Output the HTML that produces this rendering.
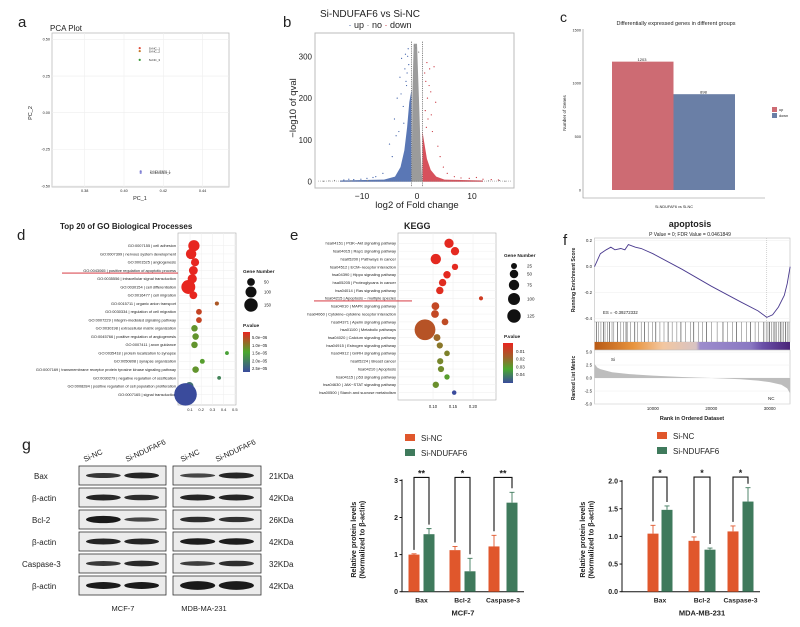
<!DOCTYPE html>
<html><head><meta charset="utf-8">
<style>
html,body{margin:0;padding:0;background:#fff;}
svg{display:block;font-family:"Liberation Sans",Arial,sans-serif;}
text{fill:#222;}
</style></head>
<body>
<svg id="fig" width="800" height="627" viewBox="0 0 800 627" xmlns="http://www.w3.org/2000/svg">
<rect width="800" height="627" fill="#fff"/>
<!-- panel letters -->
<text x="18" y="27" font-size="15">a</text>
<text x="283" y="27" font-size="15">b</text>
<text x="560" y="22" font-size="14">c</text>
<text x="17" y="240" font-size="15">d</text>
<text x="290" y="240" font-size="15">e</text>
<text x="563" y="245" font-size="15">f</text>
<text x="22" y="450" font-size="16">g</text>

<!-- a -->
<text x="50" y="31" font-size="8">PCA Plot</text>
<text x="140" y="200" font-size="5.5" text-anchor="middle">PC_1</text>
<text transform="translate(32,113) rotate(-90)" font-size="5.5" text-anchor="middle">PC_2</text>
<g id="pca"></g>

<!-- b -->
<text x="370" y="17" font-size="10" text-anchor="middle">Si-NDUFAF6 vs Si-NC</text>
<text x="380" y="28" font-size="9" text-anchor="middle"><tspan fill="#3b5ba5">·</tspan> up  <tspan fill="#888">·</tspan> no  <tspan fill="#c8323c">·</tspan> down</text>
<text x="417" y="208" font-size="9.5" text-anchor="middle">log2 of Fold change</text>
<text transform="translate(296,108) rotate(-90)" font-size="9.5" text-anchor="middle">−log10 of qval</text>
<g id="volcano"></g>

<!-- c -->
<text x="676" y="25" font-size="5.5" text-anchor="middle">Differentially expressed genes in different groups</text>
<text transform="translate(566,113) rotate(-90)" font-size="4.5" text-anchor="middle">Number of Genes</text>
<text x="674" y="208" font-size="3.8" text-anchor="middle">Si-NDUFAF6 vs Si-NC</text>
<rect x="772" y="107" width="5" height="5" fill="#cd6b73"/>
<text x="779" y="111" font-size="3.8">up</text>
<rect x="772" y="113" width="5" height="5" fill="#6a7fa6"/>
<text x="779" y="117" font-size="3.8">down</text>
<g id="deg"></g>

<!-- d -->
<text x="60" y="229" font-size="8" font-weight="bold">Top 20 of GO Biological Processes</text>
<g id="go"></g>

<!-- e -->
<text x="404" y="229" font-size="9" font-weight="bold">KEGG</text>
<g id="kegg"></g>

<!-- f -->
<text x="690" y="227" font-size="9" font-weight="bold" text-anchor="middle">apoptosis</text>
<text x="690" y="236" font-size="5" text-anchor="middle">P Value = 0; FDR Value = 0.0461849</text>
<text x="692" y="420" font-size="5.5" font-weight="bold" text-anchor="middle">Rank in Ordered Dataset</text>
<text transform="translate(575,280) rotate(-90)" font-size="5" font-weight="bold" text-anchor="middle">Running Enrichment Score</text>
<text transform="translate(575,378) rotate(-90)" font-size="5" font-weight="bold" text-anchor="middle">Ranked List Metric</text>
<g id="gsea"></g>

<!-- g blots -->
<g id="blots"></g>

<!-- bar charts -->
<g id="bars1"></g>
<g id="bars2"></g>
</svg>

<script>
// ---------- data ----------
// PCA
const pcaSamples = ['Si-NC_1','Si-NC_2','Si-NC_3','Si-NDUFAF6_1','Si-NDUFAF6_2'];
const pcaX = [0.408, 0.408, 0.408, 0.4085, 0.4085];
const pcaY = [0.44, 0.42, 0.36, -0.40, -0.41];
const pcaColors = ['#e0503c','#c8782a','#3a9a3a','#7a7ad0','#8a8ad8'];
const pcaXTicks = [0.38, 0.40, 0.42, 0.44];
const pcaYTicks = [0.50, 0.25, 0.00, -0.25, -0.50];

// Volcano
const volXTicks = [-10, 0, 10];
const volYTicks = [0, 100, 200, 300];
const downCloudFC = [-1, -1, -1.4, -1.8, -2.3, -3, -4, -6, -14, -14];
const downCloudQ  = [0, 220, 190, 130, 75, 35, 12, 5, 3, 0];
const noCloudFC = [-0.95, -0.85, -0.6, 0.0, 0.35, 0.7, 0.95];
const noCloudQ  = [0, 200, 330, 330, 200, 60, 0];
const upCloudFC = [1, 1, 1.3, 1.8, 2.5, 3.5, 5, 12, 12];
const upCloudQ  = [0, 120, 95, 55, 28, 12, 5, 3, 0];
const downFC = [-2.8,-2.2,-3.1,-1.9,-3.6,-2.5,-4.1,-5.0,-4.5,-3.3,-6.2,-7.5,-9.1,-10.2,-11.5,-12.4,-13.3,-8.0,-2.1,-1.6,-2.9,-3.8,-1.8,-2.4,-1.5,-2.0,-1.7];
const downQ  = [295,270,250,230,200,180,150,90,60,120,20,12,8,6,5,6,4,10,305,318,210,110,260,140,280,240,300];
const upFC = [1.8,2.3,3.1,1.6,2.5,3.4,4.2,2.0,1.4,2.8,5.5,6.8,8.0,9.5,10.8,12.0,13.5,14.8,3.8,2.2,4.8,1.9,1.5,2.6,1.7];
const upQ  = [285,270,275,240,215,190,60,150,260,120,20,12,9,8,10,6,5,4,85,230,35,200,170,160,130];
const noFC = [-16,-15,-17,-12,-9,13,15,16,-0.2,0.3,-0.5];
const noQ  = [2,3,1,2,3,2,3,1,320,310,325];

// DEG bar
const degGroups = ['up','down'];
const degValues = [1203, 898];
const degColors = ['#cd6b73','#6a7fa6'];
const degYTicks = [0, 500, 1000, 1500];

// GO
const goTerms = ['GO:0007155 | cell adhesion','GO:0007399 | nervous system development','GO:0001525 | angiogenesis','GO:0043065 | positive regulation of apoptotic process','GO:0035556 | intracellular signal transduction','GO:0030154 | cell differentiation','GO:0016477 | cell migration','GO:0015711 | organic anion transport','GO:0030334 | regulation of cell migration','GO:0007229 | integrin-mediated signaling pathway','GO:0030198 | extracellular matrix organization','GO:0045766 | positive regulation of angiogenesis','GO:0007411 | axon guidance','GO:0035418 | protein localization to synapse','GO:0050808 | synapse organization','GO:0007169 | transmembrane receptor protein tyrosine kinase signaling pathway','GO:0030279 | negative regulation of ossification','GO:0008284 | positive regulation of cell population proliferation','GO:0007165 | signal transduction'];
const goRatio = [0.135,0.11,0.145,0.13,0.12,0.085,0.13,0.34,0.18,0.18,0.14,0.15,0.14,0.43,0.21,0.15,0.36,0.095,0.06];
const goCount = [105,90,55,65,70,160,50,14,28,28,35,35,35,12,20,35,12,55,420];
const goP = [1e-7,1e-7,1e-7,1e-7,1e-7,1e-7,1e-7,5e-6,3e-6,3e-6,1.1e-5,1.1e-5,1.1e-5,1.4e-5,1.2e-5,1.1e-5,1.8e-5,2.1e-5,2.6e-5];
const goXTicks = [0.1,0.2,0.3,0.4,0.5];

// KEGG
const keggTerms = ['hsa04151 | PI3K−Akt signaling pathway','hsa04015 | Rap1 signaling pathway','hsa05200 | Pathways in cancer','hsa04512 | ECM−receptor interaction','hsa04390 | Hippo signaling pathway','hsa05205 | Proteoglycans in cancer','hsa04014 | Ras signaling pathway','hsa04215 | Apoptosis − multiple species','hsa04010 | MAPK signaling pathway','hsa04060 | Cytokine−cytokine receptor interaction','hsa04371 | Apelin signaling pathway','hsa01100 | Metabolic pathways','hsa04020 | Calcium signaling pathway','hsa04915 | Estrogen signaling pathway','hsa04912 | GnRH signaling pathway','hsa05224 | Breast cancer','hsa04210 | Apoptosis','hsa04115 | p53 signaling pathway','hsa04630 | JAK−STAT signaling pathway','hsa00500 | Starch and sucrose metabolism'];
const keggRatio = [0.14,0.155,0.107,0.155,0.135,0.124,0.117,0.22,0.106,0.105,0.13,0.08,0.11,0.117,0.135,0.118,0.12,0.135,0.107,0.153];
const keggCount = [60,48,75,28,38,38,38,12,42,42,32,300,33,27,22,27,27,20,28,14];
const keggP = [0.001,0.001,0.001,0.001,0.001,0.002,0.002,0.006,0.009,0.009,0.01,0.012,0.017,0.02,0.022,0.023,0.024,0.028,0.025,0.045];

// GSEA
const esRank = [0,500,1000,2000,2800,3500,4500,5200,5800,7000,8000,10000,15000,20000,25000,28000,29500,30500,31500,32500,33000,33500];
const esVal  = [0,0.05,0.10,0.13,0.15,0.13,0.14,0.13,0.17,0.15,0.14,0.10,-0.02,-0.15,-0.27,-0.34,-0.39,-0.37,-0.31,-0.22,-0.13,0];
const metricRank = [0,500,1000,3000,6000,10000,15000,20000,25000,28000,30000,32000,33000,33500];
const metricVal  = [2.7,2.0,1.7,1.1,0.75,0.45,0.2,0.0,-0.25,-0.5,-0.8,-1.3,-2.0,-3.0];
const hitRanks = [300,700,1100,1500,1800,2200,2600,3000,3300,3900,4500,5000,5400,5600,6200,6900,7400,8000,8600,9200,9900,10500,11200,11900,12600,13300,14100,14800,15600,16400,17000,17800,18500,19200,20000,21000,22000,22800,23600,24300,25200,26000,26700,27500,28100,29000,29400,29700,30000,30300,30600,30900,31200,31500,31800,32100,32400,32700,33000,33300];
const gseaXTicks = [10000,20000,30000];
const esYTicks = [0.2,0.0,-0.2,-0.4];
const metricYTicks = [5.0,2.5,0.0,-2.5,-5.0];

// Western blot
const blotRows = ['Bax','β-actin','Bcl-2','β-actin','Caspase-3','β-actin'];
const blotKDa = ['21KDa','42KDa','26KDa','42KDa','32KDa','42KDa'];
const bandMCF_NC = [0.8,1,1.3,1,0.75,1.2];
const bandMCF_KD = [1.0,0.9,0.6,1,0.95,1.2];
const bandMDA_NC = [0.6,1,0.9,1.1,0.7,1.6];
const bandMDA_KD = [1.0,1,0.85,1.1,0.9,1.6];

// Bar charts
const barCats = ['Bax','Bcl-2','Caspase-3'];
const mcfNC = [1.0, 1.12, 1.22];
const mcfNCerr = [0.02, 0.10, 0.30];
const mcfKD = [1.55, 0.55, 2.40];
const mcfKDerr = [0.15, 0.35, 0.28];
const mcfSig = ['**','*','**'];
const mcfTicks = [0,1,2,3];
const mdaNC = [1.05, 0.92, 1.09];
const mdaNCerr = [0.15, 0.07, 0.10];
const mdaKD = [1.48, 0.76, 1.63];
const mdaKDerr = [0.07, 0.03, 0.25];
const mdaSig = ['*','*','*'];
const mdaTicks = [0.0,0.5,1.0,1.5,2.0];

// ---------- helpers ----------
const NS='http://www.w3.org/2000/svg';
function mk(tag, attrs, parent){const e=document.createElementNS(NS,tag);for(const k in attrs)e.setAttribute(k,attrs[k]);parent.appendChild(e);return e;}
function txt(str, attrs, parent){const e=mk('text',attrs,parent);e.textContent=str;return e;}

// ---------- a PCA ----------
(function(){
const g=document.getElementById('pca');
const X=v=>124+(v-0.40)*1965, Y=v=>112.7-v*146.7;
const bg=mk('rect',{x:52,y:33,width:177,height:154,fill:'#fff',stroke:'#bbb','stroke-width':0.8},g);


for(const t of pcaXTicks){const l=mk('line',{x1:X(t),x2:X(t),y1:33,y2:187,stroke:'#eee','stroke-width':0.6},g);


const tt=txt(t.toFixed(2),{x:X(t),y:192,'font-size':3.8,'text-anchor':'middle'},g);

}
for(const t of pcaYTicks){const l=mk('line',{x1:52,x2:229,y1:Y(t),y2:Y(t),stroke:'#eee','stroke-width':0.6},g);


const tt=txt(t.toFixed(2),{x:50,y:Y(t)+1.3,'font-size':3.8,'text-anchor':'end'},g);

}
pcaSamples.forEach((s,i)=>{const c=mk('circle',{cx:X(pcaX[i]),cy:Y(pcaY[i]),r:1.1,fill:pcaColors[i]},g);


const t=txt(s,{x:X(pcaX[i])+9,y:Y(pcaY[i])+1.2,'font-size':3,fill:pcaColors[i]},g);

});
})();

// ---------- b Volcano ----------
(function(){
const g=document.getElementById('volcano');
const X=v=>417+v*5.5, Y=v=>181.7-v*0.418;
const bg=mk('rect',{x:315,y:33,width:199,height:155,fill:'#fff',stroke:'#bbb','stroke-width':1},g);


function cloud(fx,qy,col,name){const pts=fx.map((f,i)=>X(f)+','+Y(qy[i])).join(' ');
const p=mk('polygon',{points:pts,fill:col,opacity:0.85},g);

}
cloud(downCloudFC,downCloudQ,'#3d5fa8','down-cloud');
cloud(upCloudFC,upCloudQ,'#d0323f','up-cloud');
cloud(noCloudFC,noCloudQ,'#8a8a8a','no-change-cloud');
function pts(fx,qy,col,name){fx.forEach((f,i)=>{const c=mk('circle',{cx:X(f),cy:Y(qy[i]),r:0.6,fill:col},g);

});}
pts(downFC,downQ,'#3d5fa8','down-gene-point');
pts(upFC,upQ,'#c8323c','up-gene-point');
pts(noFC,noQ,'#888','no-change-point');
for(const f of [-1,1]){const l=mk('line',{x1:X(f),x2:X(f),y1:Y(335),y2:187,stroke:'#555','stroke-width':0.7,'stroke-dasharray':'1.2,1'},g);

}
const h=mk('line',{x1:318,x2:512,y1:Y(1.5),y2:Y(1.5),stroke:'#777','stroke-width':0.5,'stroke-dasharray':'1,1'},g);


for(const t of volXTicks){const tt=txt(t<0?'−'+(-t):String(t),{x:X(t),y:199,'font-size':8.5,'text-anchor':'middle'},g);

}
for(const t of volYTicks){const tt=txt(String(t),{x:312,y:Y(t)+3,'font-size':8,'text-anchor':'end'},g);

}
})();

// ---------- c DEG bar ----------
(function(){
const g=document.getElementById('deg');
const Y=v=>190-v*0.1067;
const ax=mk('path',{d:'M583,29 V198 H765',fill:'none',stroke:'#888','stroke-width':0.6},g);


for(const t of degYTicks){const tt=txt(String(t),{x:581,y:Y(t)+1.3,'font-size':3.8,'text-anchor':'end'},g);

}
degGroups.forEach((gr,i)=>{const x=612+i*61.5;const r=mk('rect',{x:x,y:Y(degValues[i]),width:61.5,height:190-Y(degValues[i]),fill:degColors[i]},g);


const t=txt(String(degValues[i]),{x:x+30,y:Y(degValues[i])-0.5,'font-size':4,'text-anchor':'middle'},g);

});
})();

// color scales
function lerpColor(stops,t){t=Math.max(0,Math.min(1,t));const n=stops.length-1;const i=Math.min(n-1,Math.floor(t*n));const f=t*n-i;
const a=stops[i],b=stops[i+1];return 'rgb('+a.map((v,k)=>Math.round(v+(b[k]-v)*f)).join(',')+')';}
const goStops=[[232,37,31],[74,168,47],[58,75,156]];
const keggStops=[[232,37,31],[170,95,40],[74,168,47],[58,75,156]];

// ---------- d GO ----------
(function(){
const g=document.getElementById('go');
const X=v=>178.8+v*112, Y=i=>245.7+i*8.26;
const bg=mk('rect',{x:178,y:233,width:58,height:172,fill:'#fff',stroke:'#aaa','stroke-width':0.6},g);


for(const t of goXTicks){const l=mk('line',{x1:X(t),x2:X(t),y1:233,y2:405,stroke:'#eee','stroke-width':0.5},g);


const tt=txt(String(t),{x:X(t),y:411,'font-size':4,'text-anchor':'middle'},g);

}
goTerms.forEach((term,i)=>{const l=mk('line',{x1:178,x2:236,y1:Y(i),y2:Y(i),stroke:'#eee','stroke-width':0.5},g);


const t=txt(term,{x:176,y:Y(i)+1.4,'font-size':3.9,'text-anchor':'end',fill:'#333'},g);

});
goTerms.forEach((term,i)=>{const c=mk('circle',{cx:X(goRatio[i]),cy:Y(i),r:Math.sqrt(goCount[i])*0.55,fill:lerpColor(goStops,goP[i]/2.6e-5)},g);

});
const u=mk('line',{x1:62,x2:178,y1:Y(3)+2.6,y2:Y(3)+2.6,stroke:'#d01f2a','stroke-width':0.8},g);


const lt=txt('Gene Number',{x:243,y:273,'font-size':4.8,'font-weight':'bold'},g);


[[50,282],[100,292],[150,305]].forEach(([v,y])=>{const c=mk('circle',{cx:251,cy:y,r:Math.sqrt(v)*0.55,fill:'#111'},g);


const t=txt(String(v),{x:264,y:y+1.5,'font-size':4.2},g);

});
const pt=txt('P.value',{x:243,y:327,'font-size':4.8,'font-weight':'bold'},g);


const defs=mk('defs',{},g);const lg=mk('linearGradient',{id:'goGrad',x1:0,y1:0,x2:0,y2:1},defs);
[['0','#e8251f'],['0.5','#4aa82f'],['1','#3a4b9c']].forEach(([o,c])=>mk('stop',{offset:o,'stop-color':c},lg));
const cb=mk('rect',{x:243,y:332,width:7,height:40,fill:'url(#goGrad)'},g);


['5.0e−06','1.0e−05','1.5e−05','2.0e−05','2.5e−05'].forEach((s,i)=>{const t=txt(s,{x:252,y:339+i*7.8,'font-size':4.2},g);

});
})();

// ---------- e KEGG ----------
(function(){
const g=document.getElementById('kegg');
const X=v=>433+(v-0.10)*400, Y=i=>243.3+i*7.86;
const bg=mk('rect',{x:398,y:233,width:98,height:167,fill:'#fff',stroke:'#aaa','stroke-width':0.6},g);


[0.10,0.15,0.20].forEach(t=>{const l=mk('line',{x1:X(t),x2:X(t),y1:233,y2:400,stroke:'#eee','stroke-width':0.5},g);


const tt=txt(t.toFixed(2),{x:X(t),y:408,'font-size':4.2,'text-anchor':'middle'},g);

});
keggTerms.forEach((term,i)=>{const l=mk('line',{x1:398,x2:496,y1:Y(i),y2:Y(i),stroke:'#eee','stroke-width':0.5},g);


const t=txt(term,{x:396,y:Y(i)+1.4,'font-size':4,'text-anchor':'end',fill:'#333'},g);

});
keggTerms.forEach((term,i)=>{const c=mk('circle',{cx:X(keggRatio[i]),cy:Y(i),r:Math.sqrt(keggCount[i])*0.6,fill:lerpColor(keggStops,keggP[i]/0.045)},g);

});
const u=mk('line',{x1:314,x2:412,y1:Y(7)+2.6,y2:Y(7)+2.6,stroke:'#d01f2a','stroke-width':0.8},g);


const lt=txt('Gene Number',{x:504,y:257,'font-size':4.8,'font-weight':'bold'},g);


[[25,266],[50,274],[75,285],[100,299],[125,316]].forEach(([v,y])=>{const c=mk('circle',{cx:514,cy:y,r:Math.sqrt(v)*0.6,fill:'#111'},g);


const t=txt(String(v),{x:527,y:y+1.5,'font-size':4.5},g);

});
const pt=txt('P.value',{x:504,y:338,'font-size':4.8,'font-weight':'bold'},g);


const defs=mk('defs',{},g);const lg=mk('linearGradient',{id:'keggGrad',x1:0,y1:0,x2:0,y2:1},defs);
[['0','#e8251f'],['0.35','#a0602a'],['0.65','#4aa82f'],['1','#3a4b9c']].forEach(([o,c])=>mk('stop',{offset:o,'stop-color':c},lg));
const cb=mk('rect',{x:503,y:343,width:10,height:40,fill:'url(#keggGrad)'},g);


['0.01','0.02','0.03','0.04'].forEach((s,i)=>{const t=txt(s,{x:516,y:353+i*7.7,'font-size':4.5},g);

});
})();

// ---------- f GSEA ----------
(function(){
const g=document.getElementById('gsea');
const X=r=>594.5+r*0.00584, Y=v=>266.7-v*130, Ym=v=>378-v*5.2;
const top=mk('rect',{x:594.5,y:238,width:195.5,height:84,fill:'#fff',stroke:'#bbb','stroke-width':0.6},g);


for(const t of esYTicks){const l=mk('line',{x1:594.5,x2:790,y1:Y(t),y2:Y(t),stroke:'#eee','stroke-width':0.5},g);


const tt=txt(t.toFixed(1),{x:592,y:Y(t)+1.5,'font-size':4.3,'text-anchor':'end'},g);

}
const d=mk('line',{x1:X(29500),x2:X(29500),y1:238,y2:322,stroke:'#aaa','stroke-width':0.5,'stroke-dasharray':'1,1'},g);


const line=mk('polyline',{points:esRank.map((r,i)=>X(r)+','+Y(esVal[i])).join(' '),fill:'none',stroke:'#4b3b8f','stroke-width':0.9},g);


const es=txt('ES = -0.39272332',{x:603,y:314,'font-size':4.3,fill:'#999'},g);


const hb=mk('rect',{x:594.5,y:322,width:195.5,height:20,fill:'#fff',stroke:'#bbb','stroke-width':0.5},g);


hitRanks.forEach((r,i)=>{const l=mk('line',{x1:X(r),x2:X(r),y1:322,y2:342,stroke:i%3==0?'#222':'#777','stroke-width':0.55},g);

});
const defs=mk('defs',{},g);const lg=mk('linearGradient',{id:'gseaGrad',x1:0,y1:0,x2:1,y2:0},defs);
[['0','#b85a16'],['0.2','#e8943e'],['0.35','#f3c7a0'],['0.52','#d8c3c3'],['0.54','#9c8ccc'],['0.8','#8a78c2'],['0.86','#6a4fa8'],['1','#4a2478']].forEach(([o,c])=>mk('stop',{offset:o,'stop-color':c},lg));
const cbar=mk('rect',{x:594.5,y:342,width:195.5,height:8,fill:'url(#gseaGrad)'},g);


const bot=mk('rect',{x:594.5,y:350,width:195.5,height:54,fill:'#fff',stroke:'#bbb','stroke-width':0.6},g);


for(const t of metricYTicks){const l=mk('line',{x1:594.5,x2:790,y1:Ym(t),y2:Ym(t),stroke:'#eee','stroke-width':0.5},g);


const tt=txt(t.toFixed(1),{x:592,y:Ym(t)+1.5,'font-size':4.3,'text-anchor':'end'},g);

}
for(const t of gseaXTicks){const tt=txt(String(t),{x:X(t),y:410,'font-size':4.3,'text-anchor':'middle'},g);

}
const area=mk('polygon',{points:X(0)+','+Ym(0)+' '+metricRank.map((r,i)=>X(r)+','+Ym(metricVal[i])).join(' ')+' '+X(33500)+','+Ym(0),fill:'#bdbdbd'},g);


const si=txt('Si',{x:611,y:361,'font-size':4.5},g);


const nc=txt('NC',{x:768,y:400,'font-size':4.5},g);


})();

// ---------- g Western blots ----------
(function(){
const g=document.getElementById('blots');
const rowY=[466,488,510,532,554,576];
const boxes=[{x:79,w:87,nc:bandMCF_NC,kd:bandMCF_KD,name:'mcf7'},{x:173,w:88,nc:bandMDA_NC,kd:bandMDA_KD,name:'mda231'}];
blotRows.forEach((r,i)=>{const t=txt(r,{x:r==='Caspase-3'?22:(r==='Bax'?34:32),y:rowY[i]+13,'font-size':8},g);


const k=txt(blotKDa[i],{x:269,y:rowY[i]+13,'font-size':8},g);


boxes.forEach(b=>{const rc=mk('rect',{x:b.x,y:rowY[i],width:b.w,height:19,fill:'#ececec',stroke:'#333','stroke-width':0.8},g);


[b.nc[i],b.kd[i]].forEach((v,j)=>{const e=mk('ellipse',{cx:b.x+b.w*(j?0.72:0.28),cy:rowY[i]+9.5,rx:b.w*0.2,ry:2.2*v+0.8,fill:'#1a1a1a',opacity:Math.min(1,0.55+0.4*v)},g);

});});});
[['Si-NC',85],['Si-NDUFAF6',127],['Si-NC',182],['Si-NDUFAF6',217]].forEach(([s,x])=>{const t=txt(s,{transform:'translate('+x+',462) rotate(-25)','font-size':7.5},g);

});
const a=txt('MCF-7',{x:123,y:611,'font-size':7.5,'text-anchor':'middle'},g);


const b=txt('MDB-MA-231',{x:204,y:611,'font-size':7.5,'text-anchor':'middle'},g);


})();

// ---------- bar charts ----------
function barChart(gid, axisX, y0, pxPerUnit, ticks, tickFmt, centersNC, centersKD, nc, ncErr, kd, kdErr, sig, title, titleX, legendX, ylabX, key){
const g=document.getElementById(gid);
const Y=v=>y0-v*pxPerUnit;
const yTop=Y(ticks[ticks.length-1]);
const ax=mk('path',{d:'M'+axisX+','+(yTop-1)+' V'+(y0)+' H'+(centersKD[2]+12),fill:'none',stroke:'#111','stroke-width':1},g);


for(const t of ticks){const l=mk('line',{x1:axisX-2.5,x2:axisX,y1:Y(t),y2:Y(t),stroke:'#111','stroke-width':1},g);


const tt=txt(tickFmt(t),{x:axisX-4,y:Y(t)+2.5,'font-size':7,'font-weight':'bold','text-anchor':'end'},g);

}
const w=11;
barCats.forEach((c,i)=>{
[[centersNC[i],nc[i],ncErr[i],'#e0572c','nc'],[centersKD[i],kd[i],kdErr[i],'#3f7a5c','kd']].forEach(([cx,v,e,col,s])=>{
const r=mk('rect',{x:cx-w/2,y:Y(v),width:w,height:y0-Y(v),fill:col},g);


const el=mk('path',{d:'M'+cx+','+Y(v)+' V'+Y(v+e)+' M'+(cx-2.5)+','+Y(v+e)+' H'+(cx+2.5),stroke:col,'stroke-width':0.9,fill:'none'},g);

});
const top=yTop+(key==='mcf'?-3:-4);
const l1=Y(nc[i]+ncErr[i])-4, l2=Y(kd[i]+kdErr[i])-4;
const br=mk('path',{d:'M'+centersNC[i]+','+l1+' V'+top+' H'+centersKD[i]+' V'+l2,stroke:'#111','stroke-width':1.1,fill:'none'},g);


const st=txt(sig[i],{x:(centersNC[i]+centersKD[i])/2,y:top-1,'font-size':9,'font-weight':'bold','text-anchor':'middle'},g);


const cl=txt(c,{x:(centersNC[i]+centersKD[i])/2,y:y0+11,'font-size':6.8,'font-weight':'bold','text-anchor':'middle'},g);

});
const tl=txt(title,{x:titleX,y:y0+24,'font-size':7.5,'font-weight':'bold','text-anchor':'middle'},g);


const yl=mk('text',{transform:'translate('+ylabX+','+(y0-52)+') rotate(-90)','font-size':7.2,'font-weight':'bold','text-anchor':'middle'},g);


const t1=mk('tspan',{x:0,dy:0},yl);t1.textContent='Relative protein levels';
const t2=mk('tspan',{x:0,dy:8.5},yl);t2.textContent='(Normalized to β-actin)';
const ly=key==='mcf'?434:432;
[['Si-NC','#e0572c'],['Si-NDUFAF6','#3f7a5c']].forEach(([s,col],j)=>{const r=mk('rect',{x:legendX,y:ly+j*15,width:10,height:7,fill:col},g);


const t=txt(s,{x:legendX+16,y:ly+j*15+7,'font-size':8},g);

});
}
barChart('bars1',402,591.7,37.1,mcfTicks,t=>String(t),[414,455,494],[429,470,512],mcfNC,mcfNCerr,mcfKD,mcfKDerr,mcfSig,'MCF-7',463,405,356,'mcf');
barChart('bars2',622,591.7,55.3,mdaTicks,t=>t.toFixed(1),[653,694,733],[667,710,748],mdaNC,mdaNCerr,mdaKD,mdaKDerr,mdaSig,'MDA-MB-231',702,657,585,'mda');
</script>
</body></html>
